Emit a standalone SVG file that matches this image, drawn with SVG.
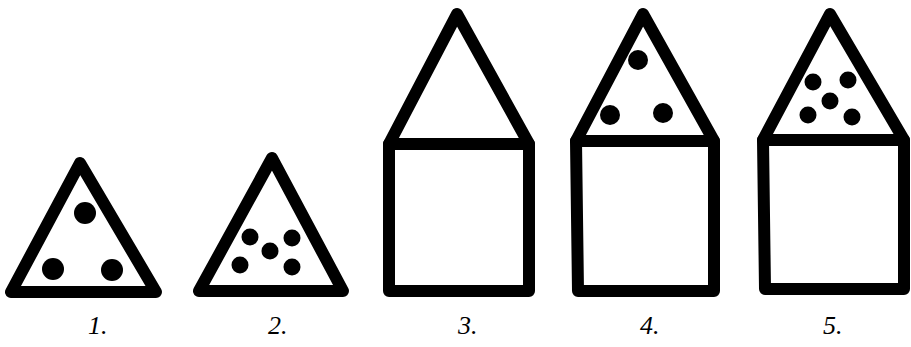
<svg xmlns="http://www.w3.org/2000/svg" width="911" height="347" viewBox="0 0 911 347">
<style>
.sh{fill:none;stroke:#000;stroke-width:12;stroke-linejoin:round;stroke-linecap:round}
.dot{fill:#000}
.lbl{font-family:"Liberation Serif",serif;font-style:italic;font-size:26px;fill:#000}
</style>
<rect width="911" height="347" fill="#fff"/>
<g id="fig1">
<path class="sh" d="M80,163 L11,292 L156,292 Z"/>
<circle class="dot" cx="85" cy="213" r="11"/>
<circle class="dot" cx="53" cy="269" r="11"/>
<circle class="dot" cx="112" cy="270" r="11"/>
<text class="lbl" x="88" y="334">1.</text>
</g>
<g id="fig2">
<path class="sh" d="M272,158 L199,291 L343,291 Z"/>
<circle class="dot" cx="250" cy="237" r="8.5"/>
<circle class="dot" cx="292" cy="238" r="8.5"/>
<circle class="dot" cx="270" cy="251" r="8.5"/>
<circle class="dot" cx="240" cy="265" r="8.5"/>
<circle class="dot" cx="292" cy="267" r="8.5"/>
<text class="lbl" x="268" y="334">2.</text>
</g>
<g id="fig3">
<path class="sh" d="M389,144 L457,14 L529,144 Z"/>
<path class="sh" d="M389,144 L529,144 L529,291 L389,291 Z"/>
<text class="lbl" x="458" y="334">3.</text>
</g>
<g id="fig4">
<path class="sh" d="M576,141 L643,14 L714,141 Z"/>
<path class="sh" d="M576,141 L714,141 L714,291 L578,291 Z"/>
<circle class="dot" cx="638" cy="60" r="10"/>
<circle class="dot" cx="610" cy="115" r="10"/>
<circle class="dot" cx="663" cy="113" r="10"/>
<text class="lbl" x="640" y="334">4.</text>
</g>
<g id="fig5">
<path class="sh" d="M763,140 L830,14 L904,140 Z"/>
<path class="sh" d="M763,140 L904,140 L904,289 L765,289 Z"/>
<circle class="dot" cx="813" cy="82" r="8.5"/>
<circle class="dot" cx="848" cy="80" r="8.5"/>
<circle class="dot" cx="830" cy="101" r="8.5"/>
<circle class="dot" cx="808" cy="115" r="8.5"/>
<circle class="dot" cx="852" cy="117" r="8.5"/>
<text class="lbl" x="823" y="334">5.</text>
</g>
</svg>
